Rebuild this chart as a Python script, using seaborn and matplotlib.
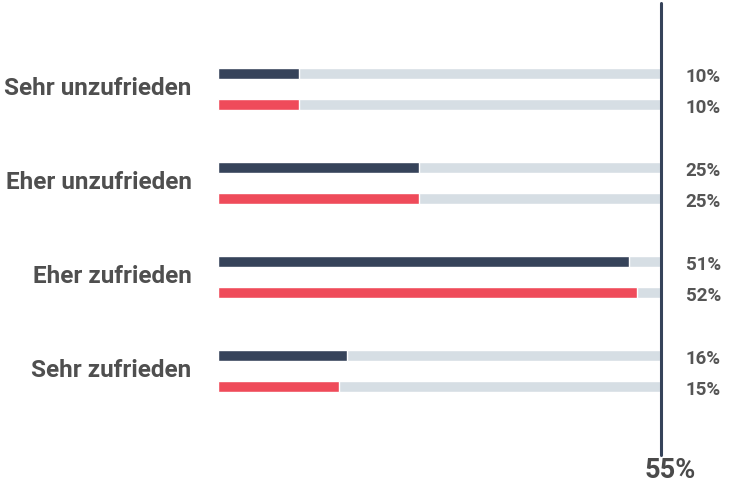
import matplotlib
matplotlib.use("Agg")
import matplotlib.pyplot as plt
import matplotlib.transforms as mtransforms
import seaborn as sns
import pandas as pd

# Survey answers and shares per group (percent)
categories = ["Sehr unzufrieden", "Eher unzufrieden", "Eher zufrieden", "Sehr zufrieden"]
series_names = ["Gruppe A", "Gruppe B"]
values_a = [10, 25, 51, 16]
values_b = [10, 25, 52, 15]
scale_max = 55
scale_label = "55%"

dark = "#36435A"
red = "#EF4B5A"
track = "#D6DEE4"
text_grey = "#4F4F4F"

sns.set_theme(style="white")
plt.rcParams["font.family"] = ["Roboto", "DejaVu Sans"]
plt.rcParams["font.weight"] = "bold"

df = pd.DataFrame({
    "Antwort": categories * 2,
    "Serie": [series_names[0]] * len(categories) + [series_names[1]] * len(categories),
    "Wert": values_a + values_b,
})
bg = df.copy()
bg["Wert"] = scale_max

fig = plt.figure(figsize=(7.31, 4.84), dpi=100)
ax = fig.add_axes([218 / 731, 1 - 455 / 484, (661 - 218) / 731, 452 / 484])

width, gap = 0.66, 0.645
sns.barplot(data=bg, y="Antwort", x="Wert", hue="Serie", orient="h",
            palette=[track, track], width=width, gap=gap, ax=ax,
            legend=False, errorbar=None, saturation=1)
sns.barplot(data=df, y="Antwort", x="Wert", hue="Serie", orient="h",
            palette=[dark, red], width=width, gap=gap, ax=ax,
            legend=False, errorbar=None, saturation=1)

ax.set_xlim(0, scale_max)
ax.set_ylim(3.89, -0.92)
ax.axvline(scale_max, color=dark, lw=2.2, zorder=5, clip_on=False)

# Value labels to the right of the scale line
for i, (va_, vb_) in enumerate(zip(values_a, values_b)):
    for off, v in ((-width / 4, va_), (width / 4, vb_)):
        ax.annotate(f"{v}%", xy=(scale_max, i + off), xytext=(30.5, -2.2),
                    textcoords="offset points", ha="center", va="center",
                    fontsize=13.5, fontweight="bold", color="#555555",
                    annotation_clip=False)

ax.annotate(scale_label, xy=(scale_max, 3.89), xytext=(6.5, -11.5),
            textcoords="offset points", ha="center", va="center",
            fontsize=19.5, fontweight="bold", color="#4A4A4A",
            annotation_clip=False)

ax.set_xlabel("")
ax.set_ylabel("")
ax.set_xticks([])
ax.tick_params(axis="y", length=0, pad=19)
shift = mtransforms.ScaledTranslation(0, 3 / 100, fig.dpi_scale_trans)
for lbl in ax.get_yticklabels():
    lbl.set_fontsize(17.5)
    lbl.set_fontweight("bold")
    lbl.set_color(text_grey)
    lbl.set_transform(lbl.get_transform() + shift)
for s in ax.spines.values():
    s.set_visible(False)

fig.savefig("out.png", dpi=100)
